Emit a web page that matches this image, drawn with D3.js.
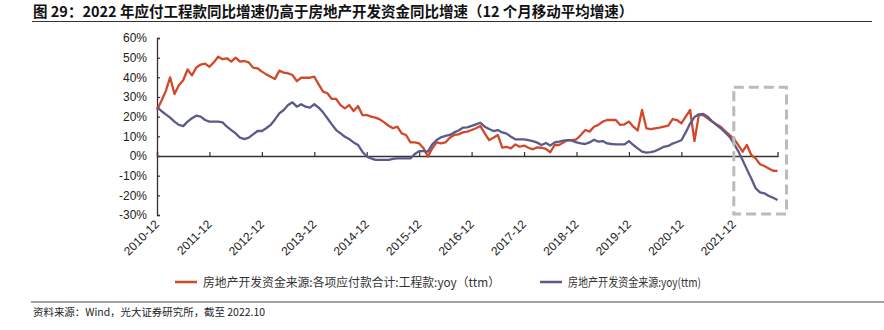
<!DOCTYPE html>
<html><head><meta charset="utf-8">
<script src="https://cdn.jsdelivr.net/npm/d3@7"></script>
<style>
html,body{margin:0;padding:0;background:#fff;}
svg{display:block;}
</style></head>
<body>
<svg id="chart" width="884" height="330"></svg>
<script>
// ---- data ----
const startMonth = "2010-12";
const endMonth = "2022-10";
const tickLabels = ["2010-12","2011-12","2012-12","2013-12","2014-12","2015-12","2016-12","2017-12","2018-12","2019-12","2020-12","2021-12"];
const yTicks = [-30,-20,-10,0,10,20,30,40,50,60];
const seriesNames = ["房地产开发资金来源:各项应付款合计:工程款:yoy（ttm）","房地产开发资金来源:yoy(ttm)"];
const payableYoy = [
23.4,28,33,40,31.5,36,38.5,44,41,45,46.5,47,
45.4,47.6,50.5,49.2,49.7,48,50,48,48.3,47.6,44.9,44.6,
42.9,41.5,40.3,39.2,43.4,42.4,42,41.2,38.1,39.8,39.8,39.8,
40.3,36.4,32.7,31.9,29,29,25.9,24.2,25.9,22.9,25.4,20.8,
20.8,20,19.5,18.6,17.1,15.4,14.1,14.9,11.5,10.7,6.9,6.9,
6.4,3.9,-0.3,3.9,6.9,6.4,6.9,9.3,10.7,11,12,12.4,
13.2,14.1,15.3,11.5,8.1,9.3,10.7,4.2,4.7,3.9,5.9,4.7,
5.3,4.2,3.4,4.4,4.2,3.6,1.9,5.6,5.6,6.9,8.1,8.1,
8.5,10.7,13.2,12.4,14.9,15.8,17.5,18.3,18.3,18.3,15.8,16.1,
17.5,14.9,13,23.4,14.1,13.7,14.1,14.4,14.9,15.4,18.8,18.3,
16.6,20,23.4,7.6,20.8,20.8,19.2,17.5,16.1,14.9,12.7,10.7,
9,5.6,2.2,5.6,0.5,-1.2,-4.2,-5.1,-6.3,-7.5,-7.6
];
const fundingYoy = [
25,22.9,21.2,19.5,17.5,15.8,15.2,17.5,19.2,20.5,20,18.3,
17.5,17.5,17.5,17.1,14.9,13.2,11.5,9.3,8.6,9.3,11,12.7,
12.7,14.1,15.8,18.6,21.7,23.4,25.9,27.3,25.1,26.3,25.1,24.6,
26.3,24.6,22.2,19.2,16.1,13.2,11.5,9.8,8.6,6.9,5.6,2.2,
-0.3,-1.2,-2,-2,-2,-2,-1.5,-1.2,-1.2,-1.2,-1.2,1,
2.5,2.5,2.2,5.9,8.1,9.5,10.2,10.7,12,13,14.4,14.6,
15.3,16.1,16.9,14.9,13.7,12.7,13.2,12,11.4,9.8,8.5,8.5,
8.5,8.1,7.6,6.8,5.6,6.6,5.3,6.9,7.3,7.8,8.1,7.8,
6.9,6.4,6.1,6.9,8.3,7.3,7.6,6.4,6.1,5.9,5.9,5.9,
7.6,5.6,3.9,2.2,1.7,2,2.5,3.6,4.7,5.1,6.3,7.1,
8,12,16.5,19.8,21.2,21.4,20,17.8,15.8,14.1,12,9.8,
6.4,2.5,-2,-6.8,-11.4,-16.4,-18.5,-19,-20.3,-21.2,-22.4
];
const highlightRange = ["2021-12","2022-10"];
const highlightY = [35,-29.5];

// ---- build ----
const fmt = d3.timeFormat("%Y-%m");
const parse = d3.timeParse("%Y-%m");
const months = d3.timeMonth.range(parse(startMonth), d3.timeMonth.offset(parse(endMonth),1)).map(fmt);

const svg = d3.select("#chart");
const x = d3.scalePoint().domain(months).range([157, 777.5]);
const y = d3.scaleLinear().domain([-30,60]).range([215,38]);

const cjk = "'Noto Sans CJK SC','Noto Sans',sans-serif";
const latin = "'Liberation Sans',Arial,sans-serif";

// title
svg.append("text").attr("x",33).attr("y",17)
  .attr("font-family",cjk).attr("font-weight",700).attr("font-size",14.5).attr("fill","#111")
  .text("图 29：2022 年应付工程款同比增速仍高于房地产开发资金同比增速（12 个月移动平均增速）");
svg.append("line").attr("x1",32).attr("x2",872).attr("y1",21.5).attr("y2",21.5)
  .attr("stroke","#333").attr("stroke-width",1);

// y axis
const yAxis = d3.axisLeft(y).tickValues(yTicks).tickSize(-3).tickPadding(10).tickFormat(d=>d+"%");
const gy = svg.append("g").attr("transform","translate(157,0)").call(yAxis);
gy.select(".domain").attr("stroke","#333").attr("stroke-width",1.3);
gy.selectAll(".tick line").attr("stroke","#333").attr("stroke-width",1.2);
gy.selectAll(".tick text").attr("font-family",latin).attr("font-size",12).attr("fill","#222");

// x axis along 0
const xAxis = d3.axisTop(x).tickValues(tickLabels).tickSize(4).tickFormat("");
const gx = svg.append("g").attr("transform",`translate(0,${y(0)})`).call(xAxis);
gx.select(".domain").attr("stroke","#333").attr("stroke-width",1.3);
gx.selectAll(".tick line").attr("stroke","#333").attr("stroke-width",1.2);

// x labels at bottom
svg.append("g").selectAll("text").data(tickLabels).join("text")
  .attr("transform",d=>`translate(${x(d)+3},${y(-30)+10}) rotate(-45)`)
  .attr("text-anchor","end").attr("font-family",latin).attr("font-size",12).attr("fill","#222")
  .text(d=>d);

// lines
const line = d3.line().x((d,i)=>x(months[i])).y(d=>y(d));
const colors = ["#D2482A","#5A5B8A"];
[payableYoy, fundingYoy].forEach((s,k)=>{
  svg.append("path").datum(s).attr("d",line).attr("fill","none")
    .attr("stroke",colors[k]).attr("stroke-width",2.3).attr("stroke-linejoin","round");
});

// highlight box
svg.append("rect")
  .attr("x",x(highlightRange[0])).attr("y",y(highlightY[0]))
  .attr("width",x(highlightRange[1])-x(highlightRange[0])+9)
  .attr("height",y(highlightY[1])-y(highlightY[0]))
  .attr("fill","none").attr("stroke","#BBBBBB").attr("stroke-width",3).attr("stroke-dasharray","10,5");

// legend
const legendX = [175,540];
const legendW = [297,133];
seriesNames.forEach((n,k)=>{
  svg.append("line").attr("x1",legendX[k]).attr("x2",legendX[k]+22).attr("y1",282).attr("y2",282)
    .attr("stroke",colors[k]).attr("stroke-width",2.5);
  svg.append("text").attr("x",legendX[k]+28).attr("y",286.5)
    .attr("font-family",cjk).attr("font-size",12).attr("fill","#333")
    .attr("textLength",legendW[k]).attr("lengthAdjust","spacingAndGlyphs")
    .text(n);
});

// source
svg.append("line").attr("x1",31).attr("x2",884).attr("y1",302).attr("y2",302)
  .attr("stroke","#444").attr("stroke-width",1);
svg.append("text").attr("x",33).attr("y",316)
  .attr("font-family",cjk).attr("font-size",10.5).attr("fill","#222")
  .attr("textLength",232).attr("lengthAdjust","spacingAndGlyphs")
  .text("资料来源：Wind，光大证券研究所，截至 2022.10");
</script>
</body></html>
